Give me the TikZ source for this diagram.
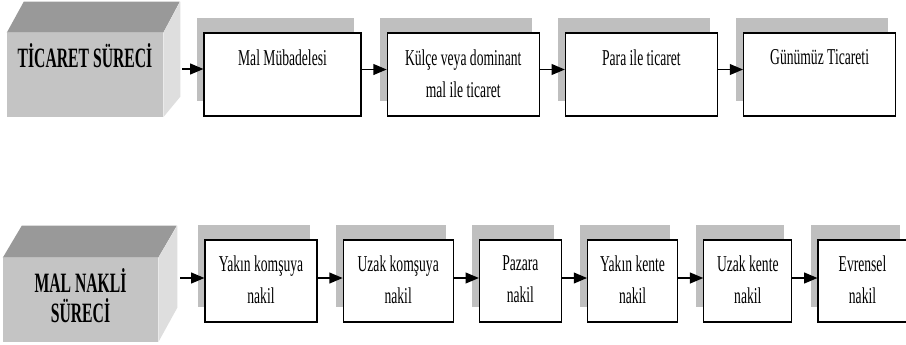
\documentclass[tikz,border=0pt]{standalone}
\usepackage{fontspec}
\newfontfamily\boxfont{Liberation Serif}[FakeStretch=0.6]
\newfontfamily\cubefont{Liberation Serif}[FakeStretch=0.56]
\usetikzlibrary{arrows,positioning,shadows}

\begin{document}
\begin{tikzpicture}[x=0.75pt,y=-0.75pt,>=triangle 45,node distance=18.75pt,
                    step node/.style={rectangle,draw,line width=0.9pt,fill=white,inner sep=0pt,
                      general shadow={fill=black!25,shadow xshift=-5.6pt,shadow yshift=11pt}},
                    step text/.style={inner sep=0pt,align=center,
                      font=\boxfont\fontsize{17}{24}\selectfont},
                    cube node/.style={rectangle,fill=black!23,inner sep=0pt,minimum height=63pt},
                    cube text/.style={inner sep=0pt,align=center,
                      font=\cubefont\bfseries\fontsize{21}{22.5}\selectfont},
                    flow/.style={->,line width=1.3pt}]
  \useasboundingbox (0,0) rectangle (906,344);

  % ticaret sureci
  \node[cube node,minimum width=117pt] (c1) at (85,75) {};
  \fill[black!40] (c1.north west) -- ++(17,-31) -- ++(156,0) -- (c1.north east) -- cycle;
  \fill[black!13] (c1.north east) -- ++(17,-31) -- ++(0,95) -- (c1.south east) -- cycle;
  \node[cube text,anchor=base] (c1t) at ([yshift=-26.25pt]c1.north) {TİCARET SÜRECİ};

  \node[step node,minimum width=117.75pt,minimum height=62.25pt] (m1) at (282.5,74.5) {};
  \node[step node,minimum width=114pt,minimum height=62.25pt] (m2) [right=of m1] {};
  \node[step node,minimum width=114pt,minimum height=62.25pt] (m3) [right=of m2] {};
  \node[step node,minimum width=114pt,minimum height=62.25pt] (m4) [right=of m3] {};
  \node[step text] (m1t) [below=12.75pt of m1.north] {Mal Mübadelesi};
  \node[step text] (m2t) [below=12.75pt of m2.north] {Külçe veya dominant\\mal ile ticaret};
  \node[step text] (m3t) [below=12.75pt of m3.north] {Para ile ticaret};
  \node[step text] (m4t) [below=12.75pt of m4.north] {Günümüz Ticareti};

  \coordinate (c1r) at (182,69);
  \path[flow]
    (c1r) edge (c1r -| m1.west)
    ([yshift=3.75pt]m1.east) edge ([yshift=3.75pt]m2.west)
    ([yshift=3.75pt]m2.east) edge ([yshift=3.75pt]m3.west)
    ([yshift=3.75pt]m3.east) edge ([yshift=3.75pt]m4.west);

  % mal nakli sureci
  \node[cube node,minimum width=116.25pt] (c2) at (80.5,300) {};
  \fill[black!40] (c2.north west) -- ++(19,-32) -- ++(155,0) -- (c2.north east) -- cycle;
  \fill[black!13] (c2.north east) -- ++(19,-32) -- ++(0,82) -- (c2.south east) -- cycle;
  \node[cube text] (c2t) [below=7.5pt of c2.north] {MAL NAKLİ\\SÜRECİ};

  \node[step node,minimum width=84pt,minimum height=61.5pt] (n1) at (261,281) {};
  \node[step node,minimum width=82.5pt,minimum height=61.5pt] (n2) [right=of n1] {};
  \node[step node,minimum width=61.5pt,minimum height=61.5pt] (n3) [right=of n2] {};
  \node[step node,minimum width=67.5pt,minimum height=61.5pt] (n4) [right=of n3] {};
  \node[step node,minimum width=66pt,minimum height=61.5pt] (n5) [right=of n4] {};
  \node[step node,minimum width=66.75pt,minimum height=61.5pt] (n6) [right=of n5] {};
  \node[step text] (n1t) [below=12pt of n1.north] {Yakın komşuya\\nakil};
  \node[step text] (n2t) [below=12pt of n2.north] {Uzak komşuya\\nakil};
  \node[step text] (n3t) [below=12pt of n3.north] {Pazara\\nakil};
  \node[step text] (n4t) [below=12pt of n4.north] {Yakın kente\\nakil};
  \node[step text] (n5t) [below=12pt of n5.north] {Uzak kente\\nakil};
  \node[step text] (n6t) [below=12pt of n6.north] {Evrensel\\nakil};

  \coordinate (c2r) at (180,278);
  \path[flow]
    (c2r) edge (c2r -| n1.west)
    ([yshift=2.25pt]n1.east) edge ([yshift=2.25pt]n2.west)
    ([yshift=2.25pt]n2.east) edge ([yshift=2.25pt]n3.west)
    ([yshift=2.25pt]n3.east) edge ([yshift=2.25pt]n4.west)
    ([yshift=2.25pt]n4.east) edge ([yshift=2.25pt]n5.west)
    ([yshift=2.25pt]n5.east) edge ([yshift=2.25pt]n6.west);
\end{tikzpicture}
\end{document}
